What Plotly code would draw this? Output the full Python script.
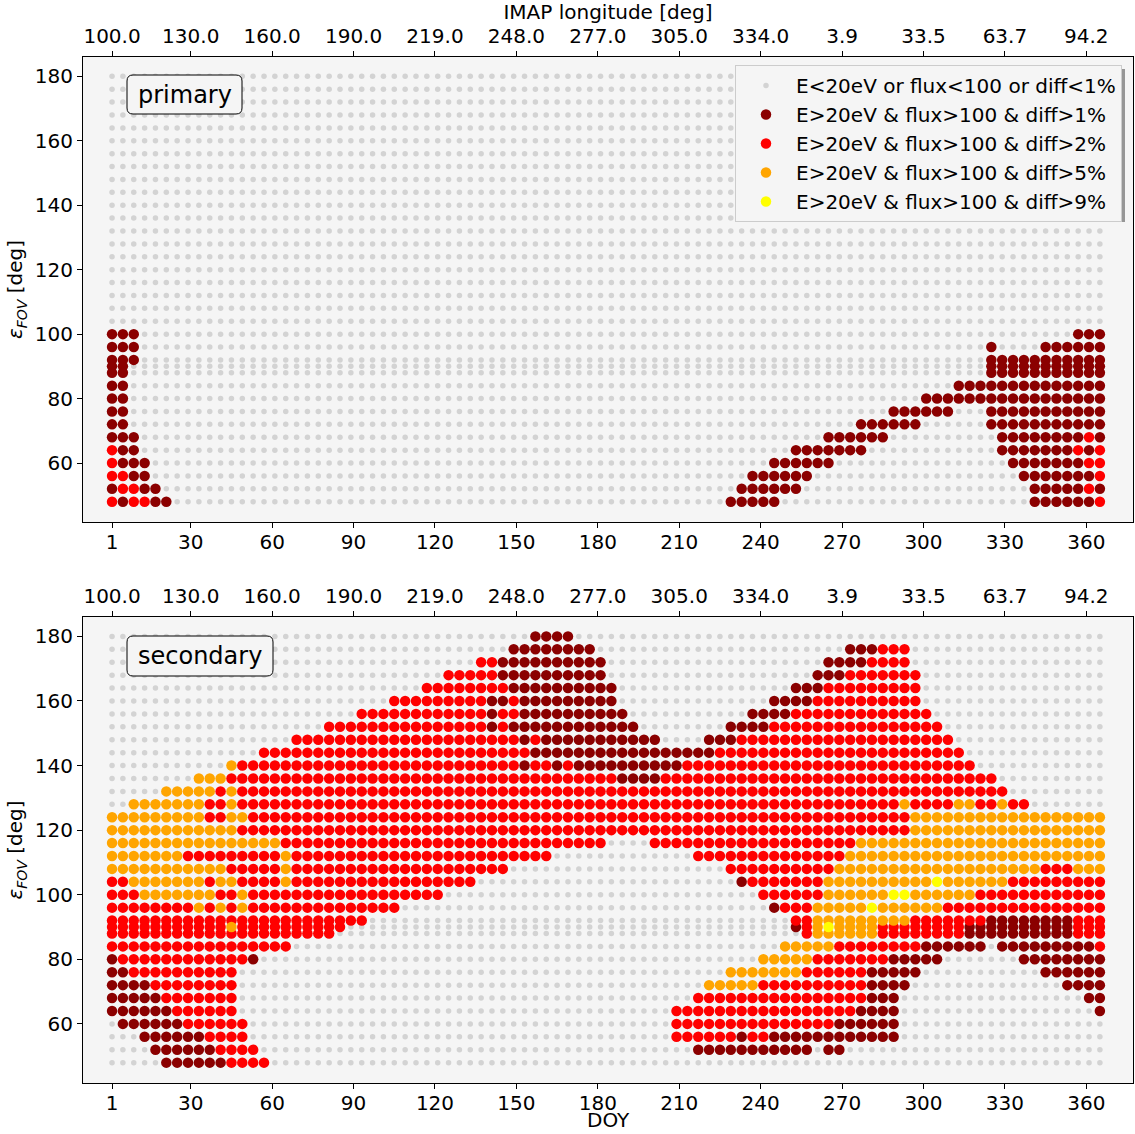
import plotly.graph_objects as go

# ---------------- data ----------------
doy_cols = list(range(1, 366, 4))            # 92 DOY columns (1, 5, ..., 365)
eps_rows = [180, 176, 172, 168, 164, 160, 156, 152, 148, 144, 140, 136, 132, 128,
            124, 120, 116, 112, 108, 104, 100, 96, 92, 90, 88, 84, 80, 76, 72, 68,
            64, 60, 56, 52, 48]

tick_doy = [1, 30, 60, 90, 120, 150, 180, 210, 240, 270, 300, 330, 360]
lon_labels = ["100.0", "130.0", "160.0", "190.0", "219.0", "248.0", "277.0",
              "305.0", "334.0", "3.9", "33.5", "63.7", "94.2"]
eps_ticks = [60, 80, 100, 120, 140, 160, 180]

# class segments per row: "a-bC" = columns a..b (index into doy_cols) have class C
# classes: D = diff>1%, R = diff>2%, O = diff>5%, Y = diff>9%, anything else = gray
primary_marks = {
    100: ["0-2D", "89-91D"],
    96: ["0-2D", "81D", "86-91D"],
    92: ["0-2D", "81-91D"],
    90: ["0-1D", "81-91D"],
    88: ["0-1D", "81-91D"],
    84: ["0-1D", "78-91D"],
    80: ["0-1D", "75-91D"],
    76: ["0-1D", "72-77D", "81-91D"],
    72: ["0-1D", "69-74D", "81-91D"],
    68: ["0-2D", "66-71D", "82-89D", "90R", "91D"],
    64: ["0R", "1-2D", "63-69D", "82-88D", "89R", "90D", "91R"],
    60: ["0R", "1-3D", "61-66D", "83-89D", "90-91R"],
    56: ["0-1R", "2-3D", "59-64D", "84-90D", "91R"],
    52: ["0D", "1-2R", "3-4D", "58-63D", "85-89D", "90R", "91D"],
    48: ["0R", "1D", "2-3R", "4-5D", "57-61D", "85-90D", "91R"],
}

secondary_marks = {
    180: ["39-42D"],
    176: ["37-44D", "68-70D", "71-73R"],
    172: ["34-35R", "36-45D", "66-69D", "70-73R"],
    168: ["31-35R", "36-45D", "65-67D", "68-74R"],
    164: ["29-36R", "37-46D", "63-65D", "66-74R"],
    160: ["26-34R", "35-36D", "37R", "38-46D", "61-64D", "65-74R"],
    156: ["23-34R", "35D", "36-37R", "38-47D", "59-62D", "63-75R"],
    152: ["20-34R", "35D", "36R", "37-48D", "57-60D", "61-76R"],
    148: ["17-37R", "38D", "39R", "40-50D", "55-57D", "58-77R"],
    144: ["14-38R", "39-55D", "56-78R"],
    140: ["11O", "12-37R", "38D", "39-40R", "41D", "42R", "43-52D", "53-79R"],
    136: ["8-10O", "11-46R", "47-50D", "51-81R"],
    132: ["5-9O", "10R", "11O", "12-82R"],
    128: ["2-8O", "9-10R", "11O", "12-72R", "73O", "74-77R", "78-79O", "80-81R", "82O", "83-84R"],
    124: ["0-8O", "9-10R", "11-12O", "13-73R", "74-91O"],
    120: ["0-11O", "12-73R", "74-91O"],
    116: ["0-15O", "16-45R", "50-68R", "69-91O"],
    112: ["0-6O", "7-15R", "16O", "17-40R", "54-67R", "68-91O"],
    108: ["0-10O", "11-15R", "16O", "17-36R", "57-66R", "67-85O", "86-88R", "89-91O"],
    104: ["0-1R", "2-8O", "9R", "10-11O", "12-15R", "16O", "17-33R", "58D", "59-65R",
          "66-75O", "76Y", "77-82O", "83-91R"],
    100: ["0-2R", "3-9O", "10-11R", "12O", "13-30R", "60-65R", "66-71O", "72-73Y",
          "74-79O", "80-91R"],
    96: ["0-7R", "8O", "9R", "10O", "11R", "12O", "13-26R", "61D", "62-64R", "65-69O",
         "70Y", "71-76O", "77-91R"],
    92: ["0-23R", "63-64R", "65-73O", "74-80R", "81-88D", "89-91R"],
    90: ["0-10R", "11O", "12-21R", "63D", "64R", "65O", "66Y", "67-70O", "71-78R",
         "79-88D", "89-91R"],
    88: ["0-20R", "64R", "65-70O", "71-78R", "79-88D", "89-91R"],
    84: ["0-16R", "62-66O", "67-74R", "75-80D", "82-90D", "91R"],
    80: ["0D", "1-12R", "13D", "60-64O", "65-71R", "72-76D", "84-91D"],
    76: ["0-1D", "2-11R", "57-63O", "64-69R", "70-74D", "86-91D"],
    72: ["0-3D", "4-11R", "55-59O", "60-69R", "70-73D", "88-91D"],
    68: ["0-4D", "5-11R", "54-69R", "70-72D", "90-91D"],
    64: ["0-5D", "6-11R", "52-68R", "69-72D", "91D"],
    60: ["1-6D", "7-12R", "52-66R", "67-72D"],
    56: ["3-8D", "9-12R", "52-57R", "58D", "59-60R", "61-72D"],
    52: ["4-9D", "10-13R", "54-64D", "66-67D"],
    48: ["5-10D", "11-14R"],
}

class_codes = [".", "D", "R", "O", "Y"]
class_labels = ["E<20eV or flux<100 or diff<1%",
                "E>20eV & flux>100 & diff>1%",
                "E>20eV & flux>100 & diff>2%",
                "E>20eV & flux>100 & diff>5%",
                "E>20eV & flux>100 & diff>9%"]
class_colors = ["lightgray", "darkred", "red", "orange", "yellow"]
class_sizes = [5.5, 10.5, 10.5, 10.5, 10.5]

# ---------------- build points ----------------
def classify(marks):
    pts = {c: ([], []) for c in class_codes}
    for eps in eps_rows:
        row = ["."] * len(doy_cols)
        for seg in marks.get(eps, []):
            code, rng = seg[-1], seg[:-1]
            if "-" in rng:
                a, b = (int(v) for v in rng.split("-"))
            else:
                a = b = int(rng)
            for k in range(a, b + 1):
                row[k] = code
        for k, c in enumerate(row):
            pts[c][0].append(doy_cols[k])
            pts[c][1].append(eps)
    return pts

FONT = "DejaVu Sans"
fig = go.Figure()

for panel, marks in enumerate([primary_marks, secondary_marks]):
    pts = classify(marks)
    xa = "x" if panel == 0 else "x2"
    ya = "y" if panel == 0 else "y2"
    for c, lab, col, sz in zip(class_codes, class_labels, class_colors, class_sizes):
        xs, ys = pts[c]
        fig.add_trace(go.Scatter(
            x=xs, y=ys, mode="markers", name=lab,
            marker=dict(color=col, size=sz, line=dict(width=0)),
            xaxis=xa, yaxis=ya, showlegend=(panel == 1),
            hoverinfo="skip"))

# dummy traces so the top (longitude) axes are drawn
fig.add_trace(go.Scatter(x=[tick_doy[0]], y=[None], xaxis="x3", yaxis="y",
                         showlegend=False, hoverinfo="skip", mode="markers"))
fig.add_trace(go.Scatter(x=[tick_doy[0]], y=[None], xaxis="x4", yaxis="y2",
                         showlegend=False, hoverinfo="skip", mode="markers"))

W, H = 1135, 1134
L, R, T, B = 83, 2, 57, 51
PW, PH = W - L - R, H - T - B
def fy(ypx):
    return (H - B - ypx) / PH
def fx(xpx):
    return (xpx - L) / PW

xr = [-9.7, 377.2]
yr = [41.7, 186.0]
tfont = dict(family=FONT, size=20, color="black")

xcommon = dict(range=xr, tickvals=tick_doy, ticktext=[str(t) for t in tick_doy],
               ticks="outside", ticklen=5, tickwidth=1, tickcolor="black",
               showline=True, linecolor="black", linewidth=1, showgrid=False,
               zeroline=False, tickfont=tfont, automargin=False, ticklabelstandoff=-3)
ycommon = dict(range=yr, tickvals=eps_ticks, ticks="outside", ticklen=5, tickwidth=1,
               tickcolor="black", showline=True, linecolor="black", linewidth=1,
               mirror=True, showgrid=False, zeroline=False, tickfont=tfont,
               automargin=False,
               title=dict(text="<i>ε</i><sub><i>FOV</i></sub> [deg]", font=tfont, standoff=6))
topcommon = dict(range=xr, tickvals=tick_doy, ticktext=lon_labels, side="top",
                 ticks="outside", ticklen=5, tickwidth=1, tickcolor="black",
                 showline=True, linecolor="black", linewidth=1, showgrid=False,
                 zeroline=False, tickfont=tfont, automargin=False)

# rounded label boxes (pixel geometry converted to paper coordinates)
def rounded_box(x0, y0, x1, y1, r=6):
    X = lambda v: fx(v)
    Y = lambda v: fy(v)
    return (f"M {X(x0 + r)} {Y(y0)} L {X(x1 - r)} {Y(y0)} Q {X(x1)} {Y(y0)} {X(x1)} {Y(y0 + r)} "
            f"L {X(x1)} {Y(y1 - r)} Q {X(x1)} {Y(y1)} {X(x1 - r)} {Y(y1)} "
            f"L {X(x0 + r)} {Y(y1)} Q {X(x0)} {Y(y1)} {X(x0)} {Y(y1 - r)} "
            f"L {X(x0)} {Y(y0 + r)} Q {X(x0)} {Y(y0)} {X(x0 + r)} {Y(y0)} Z")

shapes = [
    dict(type="path", xref="paper", yref="paper", path=rounded_box(127, 75, 242, 114),
         line=dict(color="black", width=1), fillcolor="whitesmoke", layer="above"),
    dict(type="path", xref="paper", yref="paper", path=rounded_box(127, 636, 273, 676),
         line=dict(color="black", width=1), fillcolor="whitesmoke", layer="above"),
    # legend drop shadow
    dict(type="rect", xref="paper", yref="paper", x0=fx(739), x1=fx(1125), y0=fy(222), y1=fy(69),
         line=dict(width=0), fillcolor="rgba(110,110,110,0.7)", layer="above"),
]

fig.update_layout(
    width=W, height=H,
    margin=dict(l=L, r=R, t=T, b=B, autoexpand=False),
    paper_bgcolor="white", plot_bgcolor="whitesmoke",
    font=dict(family=FONT, size=20, color="black"),
    xaxis=dict(**xcommon, anchor="y", domain=[0, 1]),
    yaxis=dict(**ycommon, anchor="x", domain=[fy(522), 1]),
    xaxis2=dict(**xcommon, anchor="y2", domain=[0, 1]),
    yaxis2=dict(**ycommon, anchor="x2", domain=[0, fy(617)]),
    xaxis3=dict(**topcommon, overlaying="x", anchor="y",
                title=dict(text="IMAP longitude [deg]", font=tfont, standoff=2)),
    xaxis4=dict(**topcommon, overlaying="x2", anchor="y2"),
    legend=dict(x=fx(735), y=fy(65), xanchor="left", yanchor="top",
                bgcolor="rgb(245,245,245)", bordercolor="#cccccc", borderwidth=1,
                font=dict(family=FONT, size=20, color="black"),
                itemsizing="trace", itemwidth=50, tracegroupgap=0),
    shapes=shapes,
    annotations=[
        dict(text="primary", xref="paper", yref="paper", x=fx(184.5), y=fy(94.5),
             xanchor="center", yanchor="middle", showarrow=False,
             font=dict(family=FONT, size=24, color="black")),
        dict(text="secondary", xref="paper", yref="paper", x=fx(200), y=fy(656),
             xanchor="center", yanchor="middle", showarrow=False,
             font=dict(family=FONT, size=24, color="black")),
        dict(text="DOY", xref="paper", yref="paper", x=fx(608), y=fy(1134),
             xanchor="center", yanchor="bottom", showarrow=False,
             font=tfont),
    ],
)

fig.write_html("out.html", config={"displayModeBar": False},
               post_script="document.body.style.margin='0';document.body.style.padding='0';"
                           "document.body.style.overflow='hidden';")
